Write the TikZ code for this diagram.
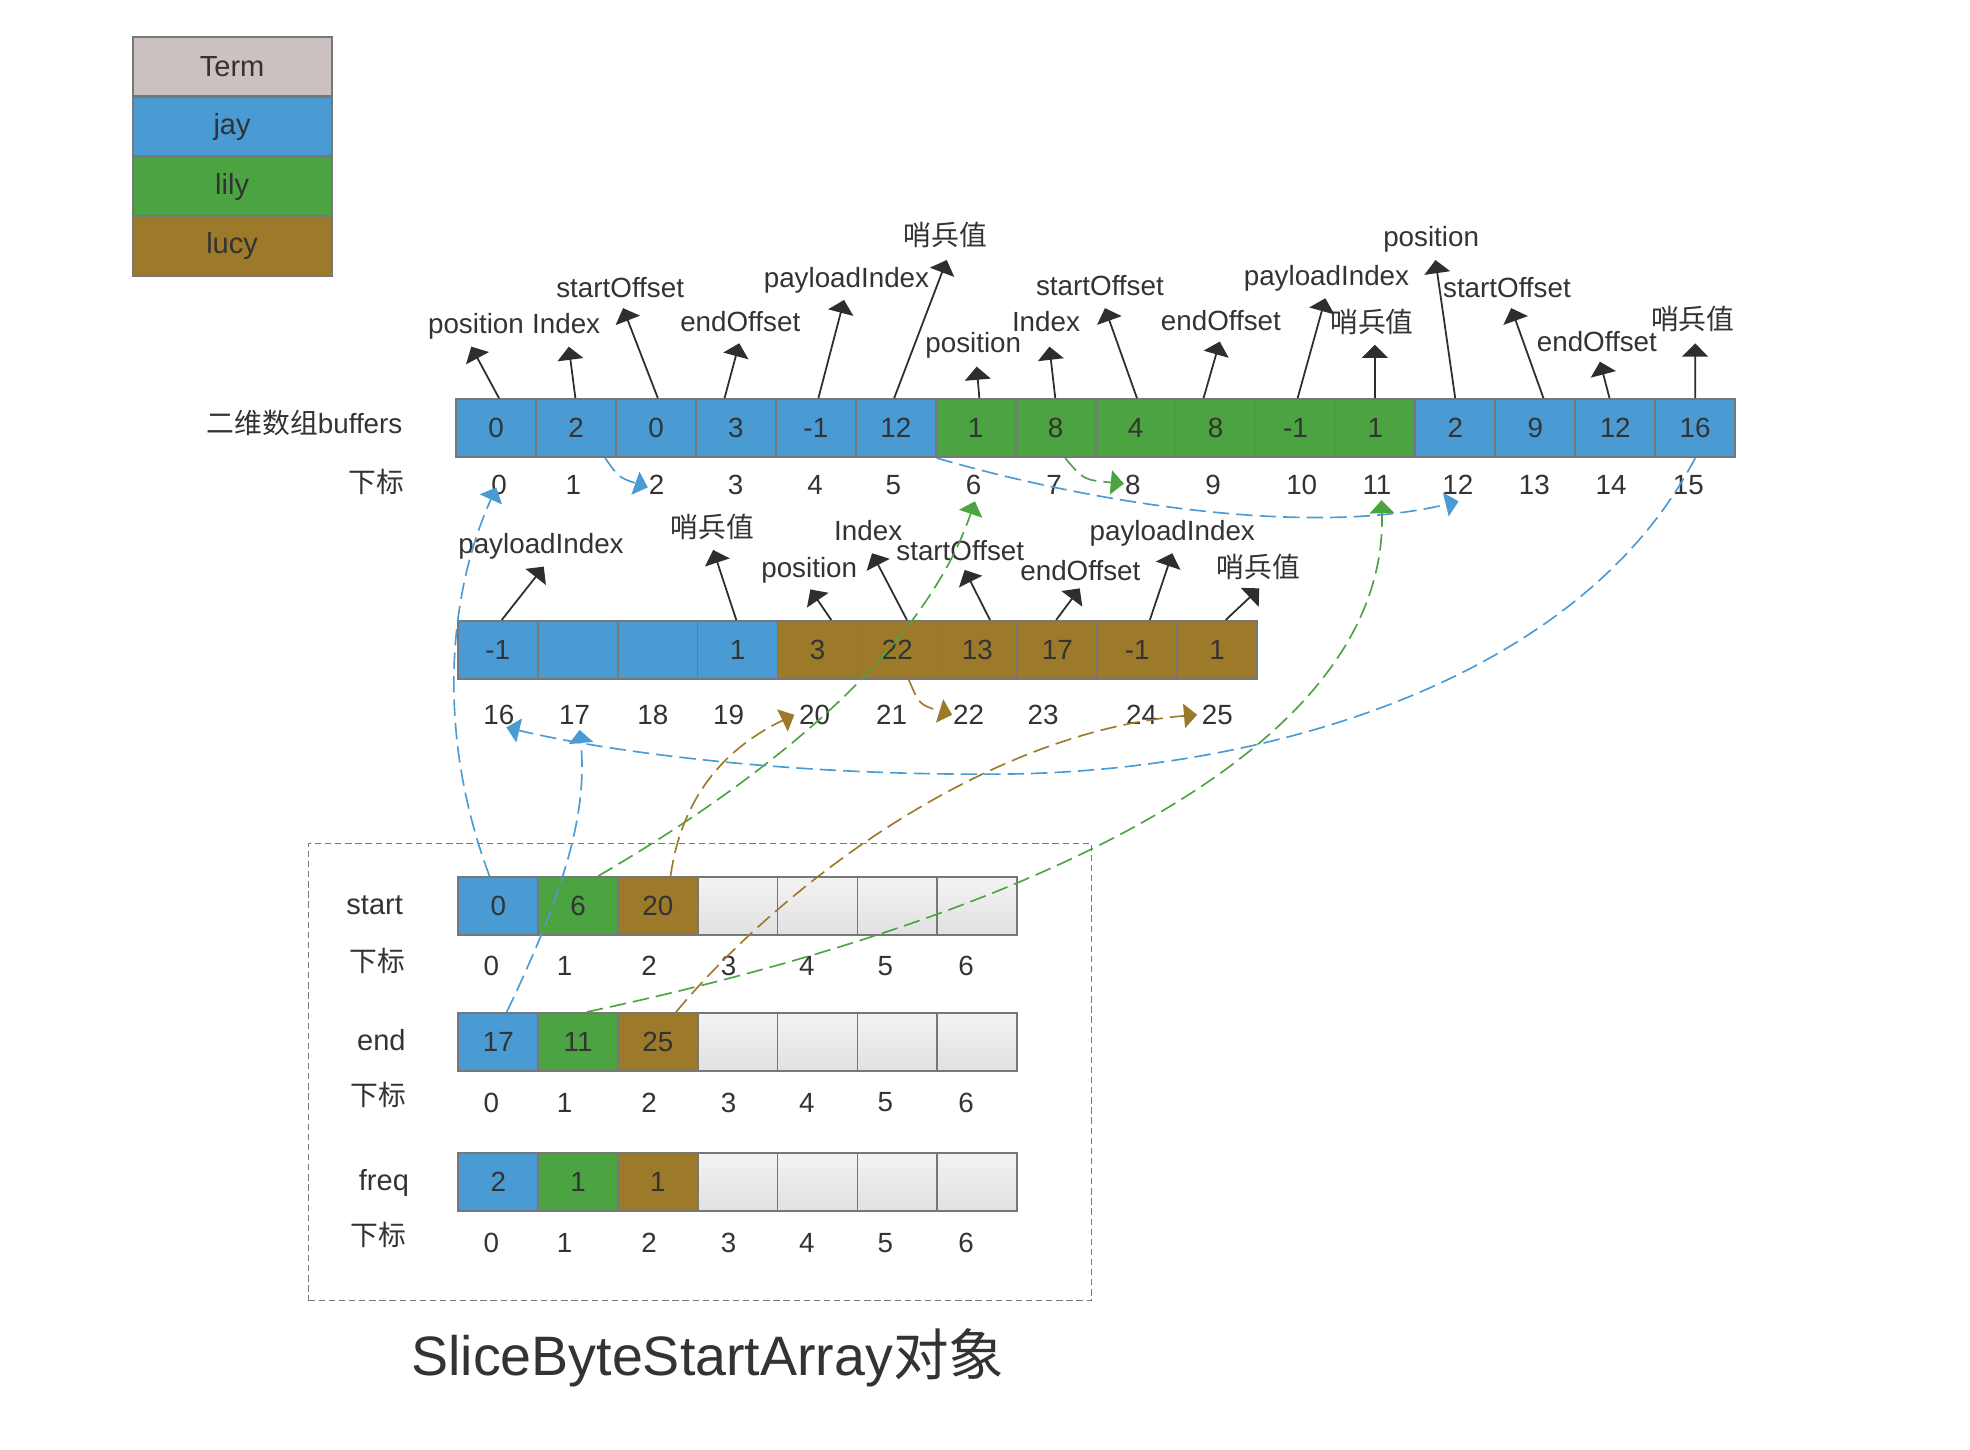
\documentclass[tikz,border=0pt]{standalone}
\usepackage{fontspec}
\setmainfont{Liberation Sans}
\newfontfamily\cjk{Noto Sans CJK SC}
\usetikzlibrary{arrows.meta,calc}
\definecolor{jayc}{HTML}{4A9BD4}
\definecolor{lilyc}{HTML}{4BA342}
\definecolor{lucyc}{HTML}{9D7A2A}
\definecolor{termc}{HTML}{CBC1C0}
\definecolor{bordc}{HTML}{777777}
\definecolor{txtc}{HTML}{333333}
\definecolor{arrc}{HTML}{2E2E2E}
\definecolor{emptytop}{HTML}{F3F3F3}
\definecolor{emptybot}{HTML}{E1E1E1}
\newcommand\sbz{{\cjk 哨兵值}}
\newcommand\xb{{\cjk 下标}}
\tikzset{
  cellbox/.style={draw=bordc, line width=0.7pt, minimum width=31.65pt, minimum height=23pt, inner sep=0pt, font=\fontsize{11}{13}\selectfont, text=txtc},
  emptycell/.style={cellbox, top color=emptytop, bottom color=emptybot},
  lab/.style={font=\fontsize{11}{13}\selectfont, text=txtc, inner sep=0pt, text height=8pt, text depth=2.3pt},
  num/.style={font=\fontsize{11}{13}\selectfont, text=txtc, inner sep=0pt},
  rowlab/.style={font=\fontsize{11.5}{14}\selectfont, text=txtc, inner sep=0pt, text height=8.3pt, text depth=2.4pt},
  annot/.style={draw=arrc, line width=0.7pt, -{Triangle[length=5.2pt,width=10.2pt]}},
  dline/.style={line width=0.65pt, dash pattern=on 6.5pt off 2.8pt, -{Triangle[length=5.2pt,width=9.6pt]}},
  bluel/.style={dline, draw=jayc},
  greenl/.style={dline, draw=lilyc},
  brownl/.style={dline, draw=lucyc},
  legendbox/.style={draw=bordc, line width=0.8pt, minimum width=78.8pt, minimum height=23.6pt, inner sep=0pt, font=\fontsize{11.5}{14}\selectfont, text=txtc},
  framebox/.style={draw=bordc, line width=0.6pt, dash pattern=on 2.5pt off 1.5pt, minimum width=309.95pt, minimum height=181.1pt, inner sep=0pt}
}
\begin{document}
\begin{tikzpicture}[x=0.5pt,y=-0.5pt]
\fill[white] (0,0) rectangle (1560,1148.2);
\useasboundingbox (0,0) rectangle (1560,1148.2);

% legend
\node[legendbox, fill=termc] (lgT) at (183.8,52.8) {Term};
\node[legendbox, fill=jayc]  (lgJ) at (183.8,100.3) {jay};
\node[legendbox, fill=lilyc] (lgL) at (183.8,147.8) {lily};
\node[legendbox, fill=lucyc] (lgU) at (183.8,194.7) {lucy};

% top array
\node[lab, anchor=east] (bufl) at (319,337.3) {{\cjk 二维数组}buffers};
\node[lab] (xbtop) at (298.3,384) {\xb};
\foreach \v/\c [count=\i from 0] in {0/jayc,2/jayc,0/jayc,3/jayc,-1/jayc,12/jayc,1/lilyc,8/lilyc,4/lilyc,8/lilyc,-1/lilyc,1/lilyc,2/jayc,9/jayc,12/jayc,16/jayc}
  \node[cellbox, fill=\c] (t\i) at ({361.2+63.3*(\i+0.5)},339) {\v};
\foreach \xx [count=\i from 0] in {395.3,454,520,582.6,645.5,707.4,771,834.7,897,960.6,1030.8,1090.4,1154.4,1215,1275.8,1337}
  \node[num] (ti\i) at (\xx,384) {\i};
\foreach \k/\dx/\tx/\ty/\lx/\ly/\txt in {
  0/2.3/373.2/274.5/376.9/258.7/position,
  1/-0.5/450.4/274.5/448.3/258.7/Index,
  2/1.5/493.4/244/491.1/230.2/startOffset,
  3/-9/585.4/271.8/586.2/256.6/endOffset,
  4/2/668.4/237.5/670.3/221.8/payloadIndex,
  5/-1.3/749.7/205.9/748.8/188.8/\sbz,
  6/2.9/773.4/290.3/770.7/273.2/position,
  7/-0.3/831/274.5/828.3/256.6/Index,
  8/1.1/875/244/871/228.4/startOffset,
  9/-9.5/965.9/270.5/966.8/256/endOffset,
  10/1.7/1049.5/236.2/1050.4/220.4/payloadIndex,
  11/-0.4/1088.75/273/1086.4/257.4/\sbz,
  12/-0.1/1136.7/205.9/1133.3/189.6/position,
  13/6.5/1196.7/244/1193.3/229.7/startOffset,
  14/-4.5/1267/286.4/1264.5/272.4/endOffset,
  15/0/1342.35/271.9/1340.4/255.5/\sbz}
{
  \node[lab] (tl\k) at (\lx,\ly) {\txt};
  \coordinate (tp\k) at (\tx,\ty);
  \draw[annot] ($(t\k.north)+(\dx,0)$) -- (tp\k);
}

% middle array
\foreach \v/\c [count=\i from 16] in {-1/jayc,{}/jayc,{}/jayc,1/jayc,3/lucyc,22/lucyc,13/lucyc,17/lucyc,-1/lucyc,1/lucyc}
  \node[cellbox, fill=\c] (m\i) at ({362.5+63.3*(\i-16+0.5)},514.6) {\v};
\foreach \xx [count=\i from 16] in {395,455,517,577,645,706,767,826,904,964}
  \node[num] (mi\i) at (\xx,566) {\i};
\foreach \k/\dx/\tx/\ty/\lx/\ly/\txt in {
  16/3.2/430.6/448.7/428.4/432.9/payloadIndex,
  19/-1/564.8/435.5/563.9/419.7/\sbz,
  20/10.9/641.7/466.7/640.8/451.3/position,
  21/7.5/690.6/438.1/687.5/422.3/Index,
  22/10/763.9/451.3/760.4/438.1/startOffset,
  23/-0.9/855/465.9/855.5/454/endOffset,
  24/10/928.3/438.1/928.3/422.3/payloadIndex,
  25/6.8/997.2/465.9/996.3/451.3/\sbz}
{
  \node[lab] (ml\k) at (\lx,\ly) {\txt};
  \coordinate (mp\k) at (\tx,\ty);
  \draw[annot] ($(m\k.north)+(\dx,0)$) -- (mp\k);
}

% SliceByteStartArray frame
\node[framebox] (frame) at (554.35,848.9) {};
\foreach \row/\yy/\a/\b/\c/\iy/\nm/\nx/\ny in {s/717.35/0/6/20/765/start/296.7/718, e/825/17/11/25/873/end/302/825.7, f/936/2/1/1/984/freq/304/936.6}
{
  \node[cellbox, fill=jayc]  (\row0) at ({363+63.2*0.5},\yy) {\a};
  \node[cellbox, fill=lilyc] (\row1) at ({363+63.2*1.5},\yy) {\b};
  \node[cellbox, fill=lucyc] (\row2) at ({363+63.2*2.5},\yy) {\c};
  \foreach \j in {3,...,6}
    \node[emptycell] (\row\j) at ({363+63.2*(\j+0.5)},\yy) {};
  \foreach \xx [count=\j from 0] in {389,447,514,577,639,701,765}
    \node[num] (\row-i\j) at (\xx,\iy) {\j};
  \node[rowlab] (\row-name) at (\nx,\ny) {\nm};
}
\node[lab] (xbs) at (299,763.5) {\xb};
\node[lab] (xbe) at (299.8,869.8) {\xb};
\node[lab] (xbf) at (299.8,980.7) {\xb};

\node[font=\fontsize{22}{26}\selectfont, text=txtc, inner sep=0pt] (title) at (560.5,1075.6) {SliceByteStartArray{\cjk 对象}};

% dashed pointers
\coordinate (tipA) at (393,386);
\draw[bluel] ($(s0.north)+(-7,0)$) .. controls (345,580) and (355,470) .. (tipA);
\coordinate (tipB) at (513,386);
\draw[bluel] ($(t1.south)+(23,0)$) .. controls (490,378) .. (tipB);
\coordinate (tipC) at (1155,397);
\draw[bluel] (t5.south east) .. controls (870,400) and (1040,425) .. (tipC);
\coordinate (tipD) at (890,383);
\draw[greenl] ($(t7.south)+(7.5,0)$) .. controls (858,380) .. (tipD);
\coordinate (tipE) at (772,397);
\draw[greenl] ($(s1.north)+(16,0)$) .. controls (600,620) and (730,520) .. (tipE);
\coordinate (tipF) at (1094,396);
\draw[greenl] ($(e1.north)+(7,0)$) .. controls (800,730) and (1100,600) .. (tipF);
\coordinate (tipG) at (401,576);
\draw[bluel] (t15.south) .. controls (1250,540) and (1000,612) .. (790,613) .. controls (620,614) and (480,595) .. (tipG);
\coordinate (tipH) at (459,578);
\draw[bluel] ($(e0.north)+(6.7,0)$) .. controls (450,700) and (465,640) .. (tipH);
\coordinate (tipI) at (629,566);
\draw[brownl] ($(s2.north)+(10,0)$) .. controls (540,630) and (575,592) .. (tipI);
\coordinate (tipJ) at (754,566);
\draw[brownl] ($(m21.south)+(9,0)$) .. controls (728,558) .. (tipJ);
\coordinate (tipK) at (948,566);
\draw[brownl] ($(e2.north)+(14.4,0)$) .. controls (620,700) and (780,580) .. (tipK);
\end{tikzpicture}
\end{document}
